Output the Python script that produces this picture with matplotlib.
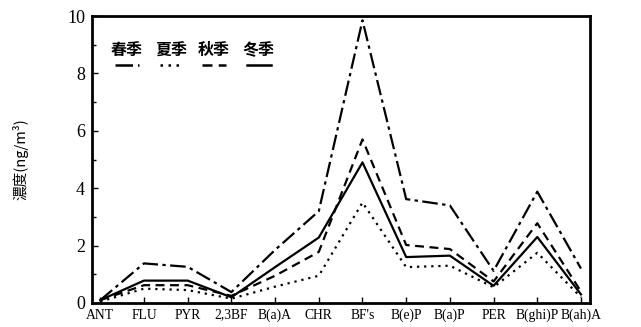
import matplotlib
matplotlib.use("Agg")
import matplotlib.pyplot as plt

categories = ["ANT", "FLU", "PYR", "2,3BF", "B(a)A", "CHR", "BF's", "B(e)P", "B(a)P", "PER", "B(ghi)P", "B(ah)A"]
spring = [0.1, 1.38, 1.26, 0.38, 1.85, 3.2, 9.85, 3.62, 3.4, 1.12, 3.88, 1.2]
summer = [0.05, 0.5, 0.45, 0.15, 0.57, 0.95, 3.5, 1.25, 1.3, 0.55, 1.75, 0.2]
autumn = [0.1, 0.62, 0.62, 0.25, 0.95, 1.78, 5.7, 2.02, 1.88, 0.75, 2.78, 0.4]
winter = [0.1, 0.78, 0.78, 0.2, 1.25, 2.28, 4.9, 1.6, 1.65, 0.6, 2.3, 0.3]
season_labels = ["春季", "夏季", "秋季", "冬季"]

plt.rcParams['font.family'] = ['Liberation Serif', 'Noto Sans CJK TC', 'DejaVu Sans']

fig = plt.figure(figsize=(6.41, 3.27), dpi=100)
ax = fig.add_axes([0.1435, 0.0734, 0.7765, 0.8776])

x = list(range(len(categories)))
styles = [(spring, (0, (7, 2, 1.5, 2))), (summer, (0, (1, 2.2))),
          (autumn, (0, (4, 2.5))), (winter, '-')]
for vals, ls in styles:
    ax.plot(x, vals, color='black', lw=1.6, linestyle=ls)

ax.set_xlim(-0.19, 11.2)
ax.set_ylim(0, 10)
ax.set_xticks(x)
ax.set_xticklabels(categories)
ax.set_yticks([0, 2, 4, 6, 8, 10])
ax.set_yticks([1, 3, 5, 7, 9], minor=True)
ax.tick_params(axis='both', direction='in', length=4, width=1)
ax.tick_params(axis='y', which='minor', direction='in', length=3, width=1)
ax.tick_params(axis='y', labelsize=13, pad=5)
ax.tick_params(axis='x', labelsize=9.8, pad=4)
for s in ax.spines.values():
    s.set_linewidth(2)

ax.set_ylabel("濃度(ng/m³)", family=['Noto Sans CJK TC', 'DejaVu Sans'], fontsize=10.5,
              labelpad=28)

# legend: text above line samples
lx = [0.07, 0.16, 0.245, 0.335]
for i, (lab, (vals, ls)) in enumerate(zip(season_labels, styles)):
    ax.text(lx[i], 0.88, lab, transform=ax.transAxes, ha='center', va='center',
            family=['Noto Sans CJK TC'], fontsize=11.5, fontweight='bold')
    ax.plot([lx[i] - 0.024, lx[i] + 0.024], [0.83, 0.83], transform=ax.transAxes,
            color='black', lw=1.8, linestyle=ls)

fig.savefig("out.png", dpi=100)
